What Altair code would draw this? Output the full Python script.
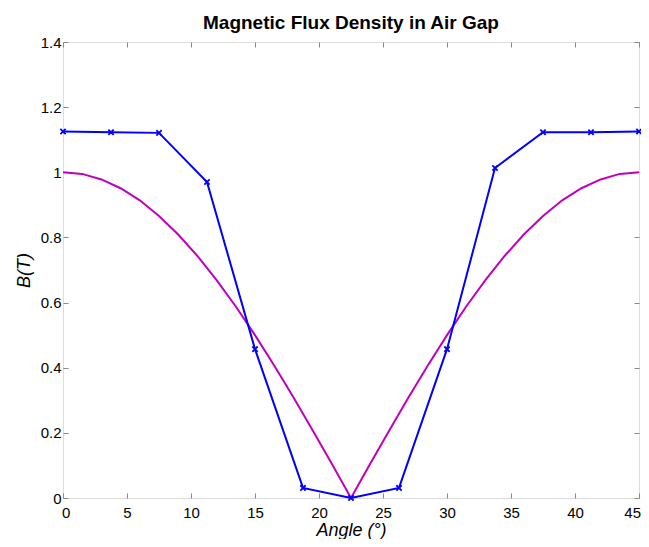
import altair as alt
import pandas as pd

# Blue series (FEA with markers)
blue_angle = [0, 3.75, 7.5, 11.25, 15, 18.75, 22.5, 26.25, 30, 33.75, 37.5, 41.25, 45]
blue_b = [1.125, 1.123, 1.121, 0.970, 0.457, 0.031, 0.0, 0.031, 0.457, 1.013, 1.123, 1.123, 1.125]

# Magenta series (smooth curve)
mag_angle = [0, 1.5, 3, 4.5, 6, 7.5, 9, 10.5, 12, 13.5, 15, 16.5, 18, 19.5, 21, 22.5,
             24, 25.5, 27, 28.5, 30, 31.5, 33, 34.5, 36, 37.5, 39, 40.5, 42, 43.5, 45]
mag_b = [1.0, 0.995, 0.978, 0.951, 0.914, 0.866, 0.809, 0.743, 0.669, 0.588, 0.5, 0.407,
         0.309, 0.208, 0.105, 0.0, 0.105, 0.208, 0.309, 0.407, 0.5, 0.588, 0.669, 0.743,
         0.809, 0.866, 0.914, 0.951, 0.978, 0.995, 1.0]

x_ticks = [0, 5, 10, 15, 20, 25, 30, 35, 40, 45]
y_ticks = [0, 0.2, 0.4, 0.6, 0.8, 1.0, 1.2, 1.4]

blue_df = pd.DataFrame({"angle": blue_angle, "b": blue_b})
mag_df = pd.DataFrame({"angle": mag_angle, "b": mag_b})

FONT = "Liberation Sans"
xs = alt.Scale(domain=[0, 45], nice=False, zero=False)
ys = alt.Scale(domain=[0, 1.4], nice=False, zero=False)

x_main = alt.X("angle:Q", scale=xs, axis=alt.Axis(
    orient="bottom", values=x_ticks, offset=-5, tickSize=5, domain=False, grid=False,
    labelPadding=7, labelFlush=True, labelFlushOffset=1.5,
    title="Angle (°)", titleFontStyle="italic", titleFontWeight="normal",
    titleFontSize=18, titlePadding=1, labelFontSize=15, format="d"))
y_main = alt.Y("b:Q", scale=ys, axis=alt.Axis(
    orient="left", values=y_ticks, offset=-5, tickSize=5, domain=False, grid=False,
    labelPadding=2, title="B(T)", titleFontStyle="italic", titleFontWeight="normal",
    titleFontSize=18, titlePadding=7, labelFontSize=15, labelExpr="format(datum.value, '')"))

x_top = alt.X("angle:Q", scale=xs, axis=alt.Axis(
    orient="top", values=x_ticks, offset=-5, tickSize=5, domain=False, grid=False,
    labels=False, title=None))
y_right = alt.Y("b:Q", scale=ys, axis=alt.Axis(
    orient="right", values=y_ticks, offset=-5, tickSize=5, domain=False, grid=False,
    labels=False, title=None))

mag_line = alt.Chart(mag_df).mark_line(color="#BF00BF", strokeWidth=2).encode(x=x_main, y=y_main)
blue_line = alt.Chart(blue_df).mark_line(color="#0000FF", strokeWidth=2).encode(x=x_top, y=y_right)
blue_pts = alt.Chart(blue_df).mark_point(
    shape="M-1,-1L1,1M-1,1L1,-1", size=28, strokeWidth=1.8, filled=False, color="#0000FF", opacity=1
).encode(x=alt.X("angle:Q", scale=xs, axis=None), y=alt.Y("b:Q", scale=ys, axis=None))

chart = alt.layer(mag_line, blue_line, blue_pts).resolve_axis(
    x="independent", y="independent"
).properties(
    width=576, height=456,
    title=alt.TitleParams("Magnetic Flux Density in Air Gap", fontSize=19, fontWeight="bold",
                          font=FONT, anchor="middle", offset=2),
    autosize=alt.AutoSizeParams(type="none"),
    padding={"left": 55, "top": 34, "right": 2, "bottom": 41},
).configure_view(stroke="black", strokeWidth=1.5).configure_axis(
    labelFont=FONT, titleFont=FONT, labelColor="black", titleColor="black",
    tickColor="black", tickWidth=1
).configure(background="white")

chart.save("out.html", embed_options={"renderer": "svg", "actions": False})
